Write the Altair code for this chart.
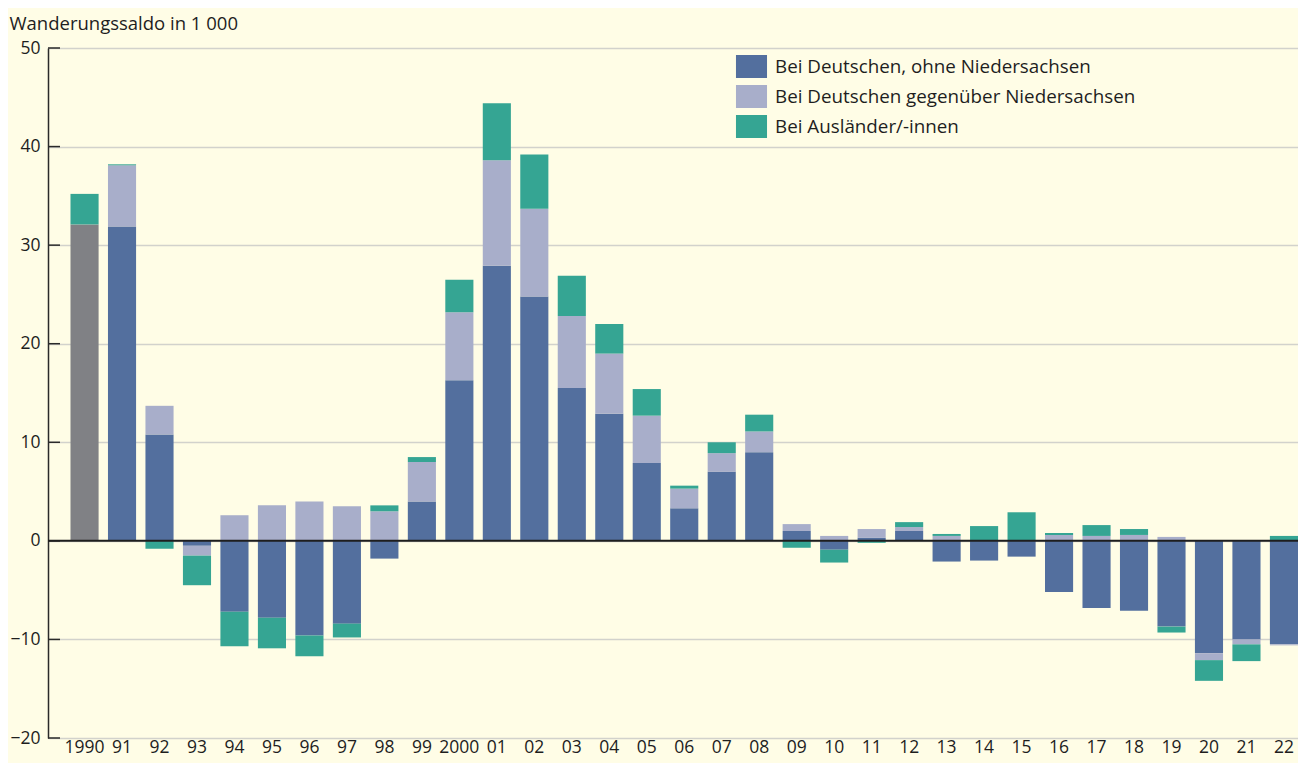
import altair as alt
import pandas as pd

years = ["1990", "91", "92", "93", "94", "95", "96", "97", "98", "99",
         "2000", "01", "02", "03", "04", "05", "06", "07", "08", "09",
         "10", "11", "12", "13", "14", "15", "16", "17", "18", "19",
         "20", "21", "22"]

# 1990: only total for Germans (grey bar)
total_de_1990 = 32.1

ohne_nds = [None, 31.9, 10.8, -0.5, -7.2, -7.8, -9.6, -8.4, -1.8, 4.0,
            16.3, 27.9, 24.8, 15.5, 12.9, 7.9, 3.3, 7.0, 9.0, 1.0,
            -0.9, 0.3, 1.0, -2.1, -2.0, -1.6, -5.2, -6.8, -7.1, -8.7,
            -11.4, -10.0, -10.5]

gegen_nds = [0.0, 6.2, 2.9, -1.0, 2.6, 3.6, 4.0, 3.5, 3.0, 4.0,
             6.9, 10.7, 8.9, 7.3, 6.1, 4.8, 2.0, 1.9, 2.1, 0.7,
             0.5, 0.9, 0.4, 0.5, 0.0, 0.0, 0.6, 0.5, 0.6, 0.4,
             -0.7, -0.5, -0.1]

auslaender = [3.1, 0.1, -0.8, -3.0, -3.5, -3.1, -2.1, -1.4, 0.6, 0.5,
              3.3, 5.8, 5.5, 4.1, 3.0, 2.7, 0.3, 1.1, 1.7, -0.7,
              -1.3, -0.2, 0.5, 0.2, 1.5, 2.9, 0.2, 1.1, 0.6, -0.6,
              -2.1, -1.7, 0.5]

s_gray = "Deutsche insgesamt"
s1 = "Bei Deutschen, ohne Niedersachsen"
s2 = "Bei Deutschen gegenüber Niedersachsen"
s3 = "Bei Ausländer/-innen"

rows = []
for i, y in enumerate(years):
    if ohne_nds[i] is None:
        rows.append({"jahr": y, "serie": s_gray, "wert": total_de_1990, "ord": 0})
    else:
        rows.append({"jahr": y, "serie": s1, "wert": ohne_nds[i], "ord": 1})
    rows.append({"jahr": y, "serie": s2, "wert": gegen_nds[i], "ord": 2})
    rows.append({"jahr": y, "serie": s3, "wert": auslaender[i], "ord": 3})
df = pd.DataFrame(rows)

ticks = [-20, -10, 0, 10, 20, 30, 40, 50]
tick_df = pd.DataFrame({"t": ticks})
zero_df = pd.DataFrame({"z": [0]})

FONT = "Open Sans"
TXT = "#1e1e1e"

yscale = alt.Scale(domain=[-20, 50], nice=False, zero=False)

bars = alt.Chart(df).mark_bar(strokeWidth=0).encode(
    x=alt.X("jahr:N", sort=years,
            scale=alt.Scale(paddingInner=0.25, paddingOuter=0.3, align=1),
            axis=alt.Axis(title=None, labelAngle=0, domain=False, ticks=False,
                          labelPadding=0, labelFontSize=17.5, labelFont=FONT,
                          labelColor=TXT, grid=False)),
    y=alt.Y("wert:Q", stack="zero", scale=yscale,
            axis=alt.Axis(values=ticks, title="Wanderungssaldo in 1 000",
                          titleAngle=0, titleAlign="left", titleBaseline="alphabetic",
                          titleX=-39, titleY=-19, titleFontSize=18.5, titleFont=FONT,
                          titleFontWeight="normal", titleColor=TXT,
                          labelFontSize=17.5, labelFont=FONT, labelColor=TXT,
                          labelPadding=8, ticks=False, domain=True,
                          domainColor="#2a2a2a", domainWidth=1.5,
                          grid=True, gridColor="#d2d2cc", gridWidth=1.5)),
    color=alt.Color("serie:N",
                    scale=alt.Scale(domain=[s_gray, s1, s2, s3],
                                    range=["#808185", "#536f9e", "#a8aeca", "#35a593"]),
                    legend=alt.Legend(values=[s1, s2, s3], title=None, orient="none",
                                      legendX=692, legendY=7, padding=0,
                                      symbolType="M-1.35,-1L1.35,-1L1.35,1L-1.35,1Z",
                                      symbolSize=529, symbolStrokeWidth=0,
                                      labelOffset=12, rowPadding=7,
                                      labelFontSize=18.8, labelFont=FONT,
                                      labelColor=TXT, labelLimit=500)),
    order=alt.Order("ord:Q"),
)

tick_rules = alt.Chart(tick_df).mark_rule(color="#2a2a2a", strokeWidth=1.5).encode(
    y=alt.Y("t:Q", scale=yscale),
    x=alt.value(0), x2=alt.value(12),
)

zero_rule = alt.Chart(zero_df).mark_rule(color="#1e1e1e", strokeWidth=2).encode(
    y=alt.Y("z:Q", scale=yscale),
)

chart = alt.layer(bars, tick_rules, zero_rule).properties(
    width=1250, height=690,
    background="#fffde6",
    padding={"left": 40, "top": 40, "right": 0, "bottom": 25},
    autosize=alt.AutoSizeParams(type="none"),
).configure_view(stroke=None)

chart.save("out.html", embed_options={"renderer": "svg", "actions": False})
